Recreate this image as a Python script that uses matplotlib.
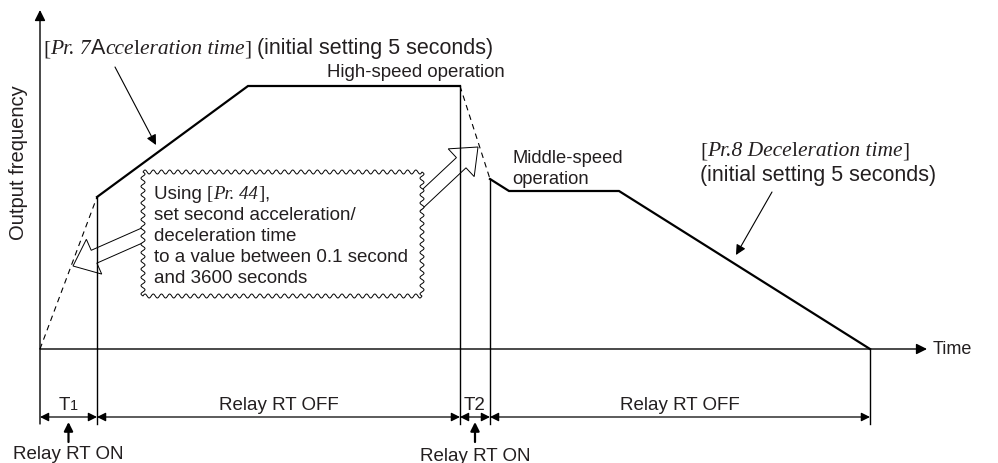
import numpy as np
import matplotlib
matplotlib.use("Agg")
import matplotlib.pyplot as plt
from matplotlib.patches import FancyArrow, Polygon
from matplotlib.transforms import IdentityTransform

# Frequency profile (schematic units: time along x, output frequency along y)
time_pts = [0, 57, 208, 420, 450, 469, 579, 830]
freq_pts = [0, 152, 263, 263, 170, 158, 158, 0]

# Timing spans below the time axis
span_edges = [0, 57, 420, 450, 830]
span_labels = ["T1", "Relay RT OFF", "T2", "Relay RT OFF"]
relay_on_spans = [0, 2]

box_lines = ["set second acceleration/", "deceleration time",
             "to a value between 0.1 second", "and 3600 seconds"]

SANS = "Liberation Sans"
SERIF = "Liberation Serif"
TXT = "#231f20"

fig = plt.figure(figsize=(9.98, 4.64), dpi=100)
ax = fig.add_axes([0, 0, 1, 1])
ax.set_xlim(-40, 958)
ax.set_ylim(-114, 350)
ax.axis("off")


def P(px, py):
    # picture pixel -> data coords
    return (px - 40, 350 - py)


def rich(x, y, pieces, ha="left"):
    r = fig.canvas.get_renderer()
    X, Y = ax.transData.transform((x, y))
    cur = X
    arts = []
    for s, fam, st, size in pieces:
        t = fig.text(cur, Y, s, transform=IdentityTransform(), family=fam,
                     style=st, size=size, color=TXT, va="baseline", ha="left",
                     zorder=5)
        cur += t.get_window_extent(r).width
        arts.append(t)
    if ha == "center":
        shift = (cur - X) / 2
        for t in arts:
            x0, y0 = t.get_position()
            t.set_position((x0 - shift, y0))


def arrow(p_from, p_to, ms=14, lw=1.0, style="-|>"):
    ax.annotate("", xy=p_to, xytext=p_from,
                arrowprops=dict(arrowstyle=style, mutation_scale=ms, lw=lw,
                                color="black", shrinkA=0, shrinkB=0))


dim_y = 350 - 418
tick_bottom = 350 - 425

# axes
arrow(P(40, 425), P(40, 11), ms=16, lw=1.0)
arrow(P(40, 350), P(927, 350), ms=16, lw=1.0)
ax.text(*P(933, 350), "Time", family=SANS, size=13, color=TXT, va="center")
ax.text(*P(19, 163), "Output frequency", family=SANS, size=14.5, color=TXT,
        rotation=90, ha="center", va="center")

# profile
solid = dict(color="black", lw=1.6, solid_joinstyle="miter")
dash = dict(color="black", lw=0.8, ls=(0, (5, 4)))
ax.plot(time_pts[0:2], freq_pts[0:2], **dash)
ax.plot(time_pts[1:4], freq_pts[1:4], **solid)
ax.plot(time_pts[3:5], freq_pts[3:5], **dash)
ax.plot(time_pts[4:], freq_pts[4:], **solid)

# vertical markers down to dimension lines
for t in span_edges[1:]:
    ftop = freq_pts[time_pts.index(t)]
    ax.plot([t, t], [ftop, tick_bottom], color="black", lw=1.0)

# dimension lines and labels
for i, lab in enumerate(span_labels):
    a, b = span_edges[i], span_edges[i + 1]
    arrow((a, dim_y), (b, dim_y), ms=13, lw=0.9, style="<|-|>")
    mid = (a + b) / 2
    if lab == "T1":
        rich(mid, 350 - 410, [("T", SANS, "normal", 13.5),
                              ("1", SANS, "normal", 10.5)], ha="center")
    else:
        rich(mid, 350 - 410, [(lab, SANS, "normal", 13.5)], ha="center")

for k, i in enumerate(relay_on_spans):
    mid = (span_edges[i] + span_edges[i + 1]) / 2
    arrow((mid, 350 - 443), (mid, 350 - 423), ms=13, lw=1.6)
    ax.text(mid, 350 - 459 - 2 * k, "Relay RT ON", family=SANS, size=13.5,
            color=TXT, ha="center", va="baseline")

# top-left annotation
rich(*P(43, 54), [("[", SERIF, "normal", 15.5),
                  ("Pr. 7", SERIF, "italic", 15.5),
                  ("A", SANS, "normal", 15.5),
                  ("cce", SERIF, "italic", 15.5),
                  ("l", SERIF, "normal", 15.5),
                  ("eration time", SERIF, "italic", 15.5),
                  ("]", SERIF, "normal", 15.5),
                  (" (initial setting 5 seconds)", SANS, "normal", 15.5)])
arrow(P(115, 68), P(156, 146), ms=15, lw=0.8)

ax.text(*P(505, 77), "High-speed operation", family=SANS, size=13.4,
        color=TXT, ha="right", va="baseline")
ax.text(*P(512, 163), "Middle-speed", family=SANS, size=13.2, color=TXT,
        va="baseline")
ax.text(*P(512, 184), "operation", family=SANS, size=13.2, color=TXT,
        va="baseline")

# right annotation
rich(*P(700, 156), [("[", SERIF, "normal", 15.5),
                    ("Pr.8 Dece", SERIF, "italic", 15.5),
                    ("l", SERIF, "normal", 15.5),
                    ("eration time", SERIF, "italic", 15.5),
                    ("]", SERIF, "normal", 15.5)])
ax.text(*P(700, 181), "(initial setting 5 seconds)", family=SANS, size=15.5,
        color=TXT, va="baseline")
arrow(P(772, 193), P(736, 256), ms=15, lw=0.8)

# hollow arrows from the note box
for (sx, sy), (tx, ty) in [((150, 233), (73, 267)), ((415, 207), (478, 148))]:
    x0, y0 = P(sx, sy)
    x1, y1 = P(tx, ty)
    ax.add_patch(FancyArrow(x0, y0, x1 - x0, y1 - y0, width=14, head_width=38,
                            head_length=23, length_includes_head=True,
                            fill=False, ec="black", lw=0.7, zorder=2))


# wavy-edged note box
def wavy(p0, p1, normal, period=8.0, amp=2.0):
    p0, p1, normal = np.array(p0, float), np.array(p1, float), np.array(normal, float)
    L = np.linalg.norm(p1 - p0)
    n = max(int(L / period), 1)
    s = np.linspace(0, 1, n * 16 + 1)
    pts = p0[None, :] + s[:, None] * (p1 - p0)[None, :]
    off = amp * np.sin(2 * np.pi * s * n)
    return pts + off[:, None] * normal[None, :]


bl, br = P(143, 297), P(422, 297)
tl, tr = P(143, 173), P(422, 173)
edge = np.vstack([wavy(tl, tr, (0, 1)), wavy(tr, br, (1, 0)),
                  wavy(br, bl, (0, -1)), wavy(bl, tl, (-1, 0))])
ax.add_patch(Polygon(edge, closed=True, fc="white", ec="black", lw=0.7,
                     zorder=3))

rich(*P(154, 199), [("Using ", SANS, "normal", 13.5),
                    ("[", SERIF, "normal", 13.5),
                    ("Pr. 44", SERIF, "italic", 13.5),
                    ("]", SERIF, "normal", 13.5),
                    (",", SANS, "normal", 13.5)])
for j, line in enumerate(box_lines):
    ax.text(*P(154, 220 + 21 * j), line, family=SANS, size=13.5, color=TXT,
            va="baseline", zorder=5)

fig.savefig("out.png", dpi=100)
